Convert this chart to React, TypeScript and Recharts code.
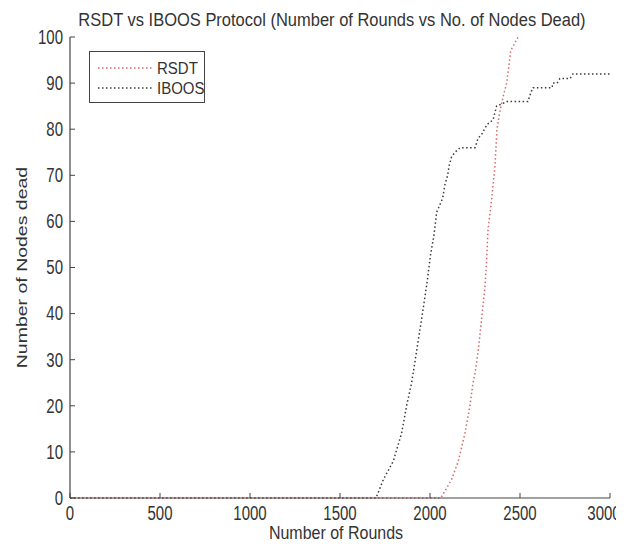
import React from 'react';
import { LineChart, Line, XAxis, YAxis, Legend } from 'recharts';

const xTicks = [0, 500, 1000, 1500, 2000, 2500, 3000];
const yTicks = [0, 10, 20, 30, 40, 50, 60, 70, 80, 90, 100];

const rsdtRounds = [0, 2060, 2120, 2157, 2194, 2222, 2239, 2250, 2268, 2287, 2306, 2315, 2322, 2343, 2361, 2372, 2384, 2406, 2426, 2439, 2448, 2489];
const rsdtDead = [0, 0, 4, 8, 14, 20, 25, 27, 32, 39, 46, 52, 58, 65, 72, 80, 83, 87, 90, 94, 97, 100];

const iboosRounds = [0, 1700, 1741, 1796, 1842, 1870, 1898, 1926, 1954, 1981, 2004, 2022, 2028, 2037, 2070, 2083, 2098, 2106, 2120, 2139, 2167, 2250, 2267, 2289, 2316, 2350, 2370, 2428, 2544, 2561, 2572, 2678, 2683, 2706, 2722, 2778, 2794, 3000];
const iboosDead = [0, 0, 4, 8, 14, 20, 25, 32, 39, 46, 53, 57, 59, 62, 65, 68, 70, 72, 74, 75, 76, 76, 78, 79, 81, 82, 85, 86, 86, 88, 89, 89, 90, 90, 91, 91, 92, 92];

const seriesNames = ['RSDT', 'IBOOS'];
const seriesColors = ['#d46a6a', '#3a3a3a'];

const rsdtData = rsdtRounds.map((r, i) => ({ round: r, dead: rsdtDead[i] }));
const iboosData = iboosRounds.map((r, i) => ({ round: r, dead: iboosDead[i] }));

const FONT = '"Liberation Sans", Arial, sans-serif';
const TXT = '#333';
const FRAME = '#444';
const TICK_LEN = 5;
const STRETCH = 1.3;

const BottomTick = (props: any) => {
  const { x, y, payload } = props;
  const axisY = y - 8;
  const isLast = payload.value === xTicks[xTicks.length - 1];
  const tx = isLast ? x - 6 : x;
  return (
    <g>
      <line x1={x} y1={axisY} x2={x} y2={axisY - TICK_LEN} stroke={FRAME} strokeWidth={1} />
      <text
        x={tx}
        y={y}
        dy="0.71em"
        textAnchor="middle"
        fontSize={15}
        fontFamily={FONT}
        fill={TXT}
        transform={`translate(0,${y}) scale(1,${STRETCH}) translate(0,${-y})`}
      >
        {payload.value}
      </text>
    </g>
  );
};

const LeftTick = (props: any) => {
  const { x, y, payload } = props;
  const axisX = x + 7;
  return (
    <g>
      <line x1={axisX} y1={y} x2={axisX + TICK_LEN} y2={y} stroke={FRAME} strokeWidth={1} />
      <text
        x={x}
        y={y}
        dy="0.35em"
        textAnchor="end"
        fontSize={15}
        fontFamily={FONT}
        fill={TXT}
        transform={`translate(0,${y}) scale(1,${STRETCH}) translate(0,${-y})`}
      >
        {payload.value}
      </text>
    </g>
  );
};

const TopTick = (props: any) => {
  const { x, y } = props;
  return <line x1={x} y1={y} x2={x} y2={y + TICK_LEN} stroke={FRAME} strokeWidth={1} />;
};

const RightTick = (props: any) => {
  const { x, y } = props;
  return <line x1={x} y1={y} x2={x - TICK_LEN} y2={y} stroke={FRAME} strokeWidth={1} />;
};

const YLabel = (props: any) => {
  const vb = props.viewBox || {};
  const cx = 14;
  const cy = (vb.y ?? 29) + (vb.height ?? 461) / 2;
  return (
    <text
      x={0}
      y={0}
      dy="0.35em"
      textAnchor="middle"
      fontSize={15}
      fontFamily={FONT}
      fill={TXT}
      transform={`translate(${cx},${cy}) scale(1,${STRETCH}) rotate(-90)`}
    >
      Number of Nodes dead
    </text>
  );
};

const XLabel = (props: any) => {
  const vb = props.viewBox || {};
  const cx = (vb.x ?? 62) + (vb.width ?? 540) / 2 - 4;
  const cy = 525;
  return (
    <text
      x={0}
      y={0}
      dy="0.35em"
      textAnchor="middle"
      fontSize={16}
      fontFamily={FONT}
      fill={TXT}
      transform={`translate(${cx},${cy}) scale(1,1.15)`}
    >
      Number of Rounds
    </text>
  );
};

const LegendBox = () => (
  <div
    style={{
      width: 116,
      height: 52,
      border: `1px solid ${FRAME}`,
      background: '#fff',
      boxSizing: 'border-box',
      fontFamily: FONT,
      fontSize: 15,
      color: TXT,
      paddingTop: 6,
    }}
  >
    {seriesNames.map((name, i) => (
      <div key={name} style={{ display: 'flex', alignItems: 'center', height: 20 }}>
        <svg width={67} height={10} style={{ display: 'block', flexShrink: 0 }}>
          <line x1={8} y1={5} x2={62} y2={5} stroke={seriesColors[i]} strokeWidth={1.5} strokeDasharray="1.5 2.5" />
        </svg>
        <span style={{ lineHeight: '16px', display: 'inline-block', transform: 'scaleY(1.15)' }}>{name}</span>
      </div>
    ))}
  </div>
);

export default function App() {
  return (
    <LineChart width={616} height={540} margin={{ top: 29, right: 14, bottom: 0, left: 0 }}>
      <text
        x={324}
        y={18}
        textAnchor="middle"
        fontSize={16.5}
        fontFamily={FONT}
        fill={TXT}
        transform="translate(0,18) scale(1,1.1) translate(0,-18)"
      >
        RSDT vs IBOOS Protocol (Number of Rounds vs No. of Nodes Dead)
      </text>
      <XAxis
        dataKey="round"
        type="number"
        domain={[0, 3000]}
        ticks={xTicks}
        interval={0}
        height={50}
        tickSize={0}
        tickMargin={8}
        tickLine={false}
        tick={BottomTick}
        axisLine={{ stroke: FRAME, strokeWidth: 1.2 }}
        allowDataOverflow
        label={<XLabel />}
      />
      <XAxis
        xAxisId="top"
        orientation="top"
        type="number"
        domain={[0, 3000]}
        ticks={xTicks}
        interval={0}
        height={0}
        tickSize={0}
        tickMargin={0}
        tickLine={false}
        tick={TopTick}
        axisLine={{ stroke: FRAME, strokeWidth: 1.2 }}
      />
      <YAxis
        type="number"
        domain={[0, 100]}
        ticks={yTicks}
        interval={0}
        width={62}
        tickSize={0}
        tickMargin={7}
        tickLine={false}
        tick={LeftTick}
        axisLine={{ stroke: FRAME, strokeWidth: 1.2 }}
        label={<YLabel />}
      />
      <YAxis
        yAxisId="right"
        orientation="right"
        type="number"
        domain={[0, 100]}
        ticks={yTicks}
        interval={0}
        width={0}
        tickSize={0}
        tickMargin={0}
        tickLine={false}
        tick={RightTick}
        axisLine={{ stroke: FRAME, strokeWidth: 1.2 }}
      />
      <Legend
        layout="vertical"
        align="center"
        verticalAlign="middle"
        wrapperStyle={{ left: 81, top: 43, width: 116, height: 52 }}
        content={LegendBox}
      />
      <Line
        data={iboosData}
        dataKey="dead"
        name={seriesNames[1]}
        type="linear"
        stroke={seriesColors[1]}
        strokeWidth={1.5}
        strokeDasharray="1.5 2.5"
        dot={false}
        isAnimationActive={false}
      />
      <Line
        data={rsdtData}
        dataKey="dead"
        name={seriesNames[0]}
        type="linear"
        stroke={seriesColors[0]}
        strokeWidth={1.5}
        strokeDasharray="1.5 2.5"
        dot={false}
        isAnimationActive={false}
      />
    </LineChart>
  );
}
